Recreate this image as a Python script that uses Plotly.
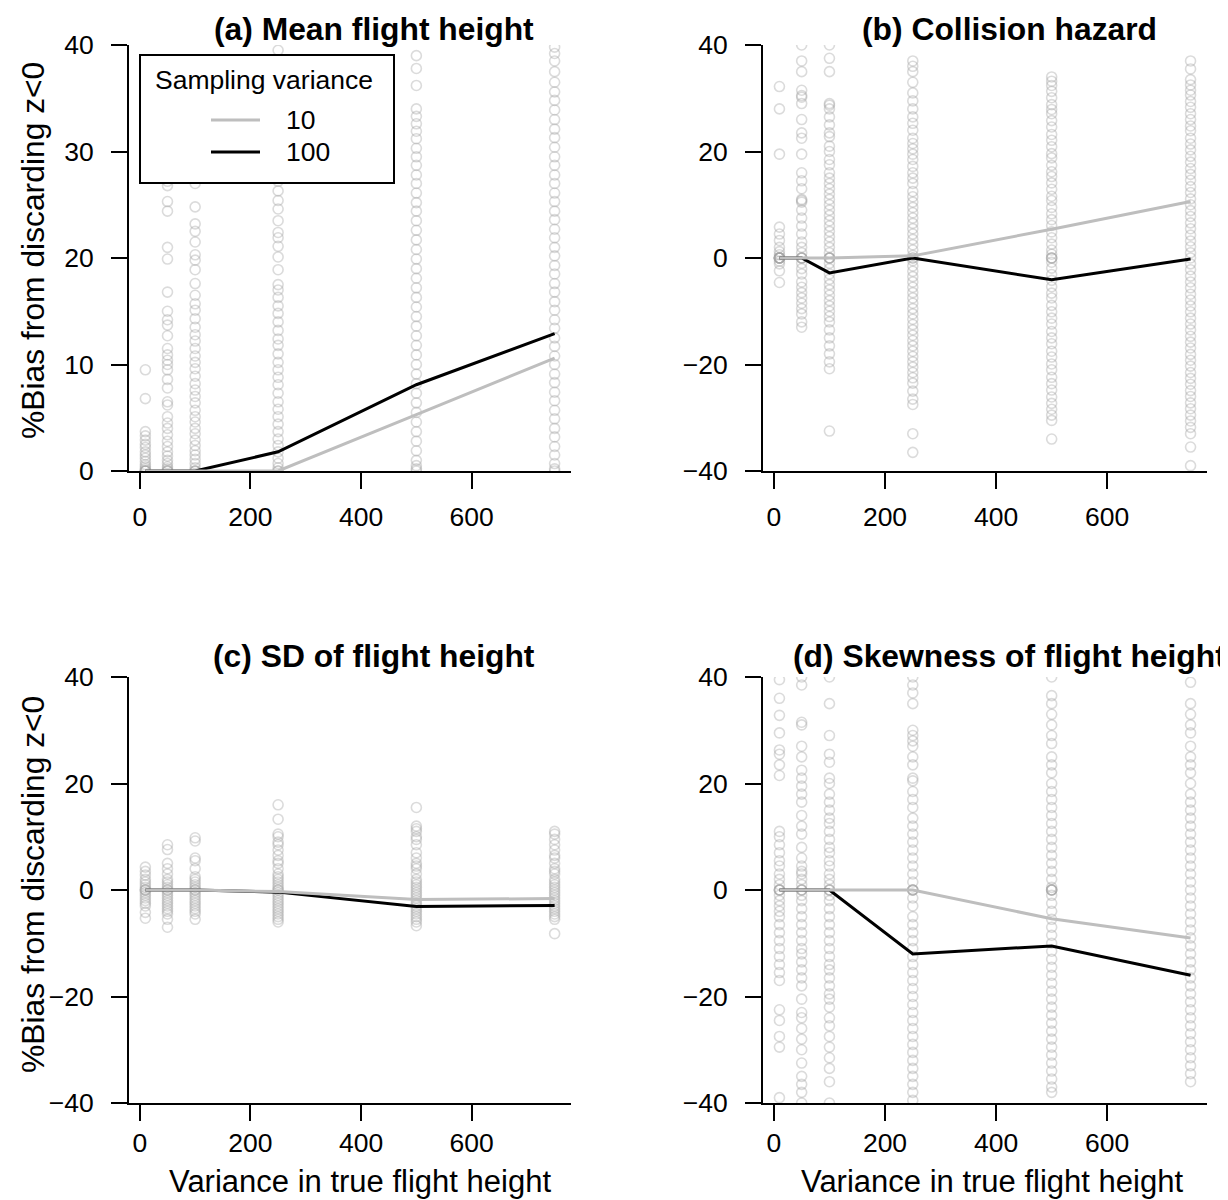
import plotly.graph_objects as go

# ---------------- data ----------------
VAR_TRUE = [10, 50, 100, 250, 500, 750]
X_TICKS = [0, 200, 400, 600]

# mean bias lines (sampling variance 10 = grey, 100 = black)
A_LINE_10 = [0, 0, 0, 0, 5.3, 10.6]
A_LINE_100 = [0, 0, 0, 1.8, 8.1, 12.9]
B_LINE_10 = [0, 0, 0, 0.4, 5.4, 10.6]
B_LINE_100 = [0, 0, -2.8, 0, -4.1, -0.2]
C_LINE_10 = [0, 0, 0, -0.3, -1.8, -1.6]
C_LINE_100 = [0, 0, 0, -0.4, -3.1, -2.9]
D_LINE_10 = [0, 0, 0, 0, -5.4, -9.0]
D_LINE_100 = [0, 0, 0, -12.0, -10.5, -16.0]

# individual simulation results (panel a)
A_10 = [9.5, 6.8, 3.7, 3.3, 2.9, 2.5, 2.2, 1.8, 1.5, 1.2, 0.9, 0.6, 0.4, 0.2, 0, 0, 0, 0]
A_50 = [33, 29, 27.2, 26.8, 25.3, 24.4, 21.0, 19.9, 16.8, 15.0, 14.2, 13.7, 12.7, 11.5, 10.9, 10.4,
        10.0, 9.5, 8.6, 7.8, 6.5, 6.2, 5.1, 4.5, 4.0, 3.4, 2.8, 2.3, 1.8, 1.4, 1.0, 0.7, 0.4, 0.2, 0, 0, 0]
A_100 = [34, 30, 27, 24.8, 23.2, 22.5, 21.5, 20.3, 19.8, 18.9, 17.6, 16.5, 15.7, 15.1, 14.3, 13.5, 12.8,
         12.2, 11.5, 10.8, 10.2, 9.6, 8.9, 8.2, 7.6, 7.0, 6.4, 5.7, 5.1, 4.6, 4.0, 3.5, 2.9, 2.4, 1.9,
         1.5, 1.1, 0.7, 0.3, 0, 0, 0]
A_250 = [39.5, 36, 33, 30.5, 28.6, 27.2, 26.3, 25.4, 24.6, 23.5, 22.4, 21.9, 21.1, 20.1, 18.9, 17.5,
         17.0, 16.3, 15.5, 14.8, 14.0, 13.2, 12.4, 11.8, 11.0, 10.2, 9.5, 8.8, 8.1, 7.3, 6.5, 5.8, 5.1,
         4.4, 3.7, 3.0, 2.4, 1.8, 1.2, 0.7, 0.3, 0, 0]
A_500 = [39.0, 37.8, 36.2, 34.0, 33.3, 32.6, 31.9, 31.2, 30.3, 29.5, 28.7, 27.8, 27.0, 26.1, 25.2, 24.4,
         23.5, 22.6, 21.7, 20.8, 19.9, 19.0, 18.1, 17.2, 16.3, 15.4, 14.5, 13.6, 12.7, 11.8, 10.9, 10.0,
         9.1, 8.2, 7.3, 6.4, 5.5, 4.6, 3.7, 2.8, 1.9, 1.0, 0.5, 0.2, 0]
A_750 = [39.8, 39.2, 38.5, 37.5, 36.5, 35.6, 34.8, 33.9, 33.0, 32.1, 31.3, 30.4, 29.5, 28.7, 27.8, 27.0,
         26.1, 25.3, 24.4, 23.6, 22.7, 21.9, 21.0, 20.2, 19.3, 18.5, 17.6, 16.8, 15.9, 15.1, 14.2, 13.4,
         12.5, 11.7, 10.8, 10.0, 9.1, 8.3, 7.4, 6.6, 5.7, 4.9, 4.0, 3.2, 2.3, 1.5, 0.7, 0.2, 0]

# panel b
B_10 = [32.2, 28, 19.5, 5.8, 4.5, 3.3, 2.0, 1.2, 0.6, 0, 0, 0, 0, 0, 0, 0, 0, -0.6, -1.1, -2.4, -4.6]
B_50 = [40, 37, 35, 31.5, 30.5, 30.2, 29, 26, 23.5, 22.5, 19.5, 16, 14.5, 13, 11, 10.8, 10.5, 9, 7.5, 6,
        4.5, 3, 2, 1, 0, 0, 0, 0, -1, -2, -3, -4.5, -5.5, -6.5, -7.5, -8.5, -9.5, -10.5, -12, -13]
B_100 = [40, 37.5, 35, 29, 28.7, 28, 26.5, 25, 23.5, 22.8, 21, 20, 18.5, 17.5, 16, 15, 14, 13, 12, 11, 10,
         9, 8, 7, 6, 5, 4, 3, 2, 1, 0, 0, 0, 0, -1, -2, -3, -4, -5, -6, -7, -8, -9, -10, -11, -12,
         -13.5, -15, -16.5, -18, -19.5, -20.8, -32.5]
B_250 = [37, 36, 35, 33, 31, 29.5, 28, 26.5, 25.3, 24, 22.5, 21.5, 20.5, 19.5, 18.5, 17.2, 16, 15, 14,
         12.5, 11.5, 10.5, 9.5, 8.5, 7.5, 6.5, 5.5, 4.5, 3.5, 2.5, 1.5, 0.5, 0, 0, -0.5, -1.5, -2.5,
         -3.5, -4.5, -5.5, -6.5, -7.5, -8.5, -9.5, -10.5, -11.5, -12.5, -13.5, -14.5, -15.5, -16.5,
         -17.5, -18.5, -19.5, -20.5, -21.5, -22.5, -23.5, -25, -26.5, -27.5, -33, -36.5]
B_500 = [34, 33.2, 32.4, 31.3, 30.1, 28.8, 27.9, 27.1, 25.8, 24.6, 23.2, 22.1, 20.9, 19.6, 18.8, 17.4,
         16.2, 15.3, 14.1, 12.9, 11.6, 10.8, 9.5, 8.3, 7.2, 6.1, 4.9, 3.8, 2.6, 1.5, 0.7, 0, 0, 0, -0.8,
         -1.9, -3.1, -4.2, -5.4, -6.6, -7.5, -8.9, -10.1, -11.3, -12.4, -13.8, -15.0, -16.1, -17.5,
         -18.6, -19.9, -21.0, -22.4, -23.6, -24.8, -26.1, -27.3, -28.4, -29.5, -30.5, -34]
B_750 = [37, 35.5, 33.5, 32.5, 31.5, 30.6, 29.4, 28.3, 27.1, 26.0, 24.8, 23.9, 22.5, 21.4, 20.3, 19.1,
         18.0, 16.8, 15.7, 14.6, 13.4, 12.3, 11.1, 10.0, 8.9, 7.8, 6.6, 5.5, 4.3, 3.2, 2.1, 1.0, 0,
         -1.1, -2.2, -3.4, -4.5, -5.6, -6.8, -7.9, -9.0, -10.1, -11.3, -12.4, -13.5, -14.7, -15.8,
         -16.9, -18.1, -19.2, -20.3, -21.5, -22.6, -23.7, -24.9, -26.0, -27.2, -28.3, -29.5, -30.6,
         -31.8, -33, -35.5, -39]

# panel c
C_10 = [4.3, 3.5, 2.8, 2.0, 1.5, 1.0, 0.5, 0, 0, 0, -0.5, -1.0, -1.5, -2.0, -2.5, -3.0, -4.2, -5.3]
C_50 = [8.5, 7.6, 5.0, 4.0, 3.0, 2.0, 1.5, 1.0, 0.5, 0, 0, -0.5, -1.0, -1.5, -2.0, -2.5, -3.0, -3.5,
        -4.0, -4.5, -5.5, -7.0]
C_100 = [9.8, 9.2, 6.0, 5.5, 4.0, 2.5, 2.0, 1.5, 1.0, 0.5, 0, 0, -0.5, -1.0, -1.5, -2.0, -2.5, -3.0,
         -3.5, -4.0, -4.5, -5.5]
C_250 = [16.0, 13.3, 10.5, 10.0, 9.0, 8.5, 7.5, 6.5, 5.5, 5.0, 4.0, 3.0, 2.5, 2.0, 1.5, 1.0, 0.5, 0, 0,
         -0.5, -1.0, -1.5, -2.0, -2.5, -3.0, -3.5, -4.0, -4.5, -5.0, -5.5, -6.0]
C_500 = [15.5, 12.0, 11.5, 11.0, 10.0, 9.5, 8.5, 7.0, 6.0, 5.0, 4.5, 4.0, 3.0, 2.0, 1.5, 1.0, 0.5, 0,
         -0.5, -1.0, -1.5, -2.0, -2.5, -3.0, -3.5, -4.0, -4.5, -5.0, -5.5, -6.0, -6.7]
C_750 = [11.0, 10.5, 9.5, 8.5, 7.5, 6.5, 6.0, 5.0, 4.0, 3.5, 3.0, 2.0, 1.5, 1.0, 0.5, 0, -0.5, -1.0,
         -1.5, -2.0, -2.5, -3.0, -3.5, -4.0, -4.5, -5.0, -5.5, -8.2]

# panel d
D_10 = [39.5, 36, 32.8, 29.5, 26.3, 25.5, 23.5, 21.5, 11, 10, 8.5, 7, 5.5, 4.5, 3, 2, 1, 0, 0, 0, 0,
        -1, -2, -3, -4, -5, -6.5, -8, -9.5, -11, -12.5, -14, -15.5, -17, -22.5, -24.5, -27.5, -29.5, -39]
D_50 = [40, 38.5, 31.5, 31, 27, 25, 22.5, 21, 19.5, 18, 16.5, 14, 12, 10.5, 8, 6, 4.5, 3.5, 3, 2, 1, 0,
        0, 0, -1, -2, -3.5, -5, -6.5, -8, -9.5, -11, -12, -13.5, -15, -16.5, -18, -20.5, -23, -24, -26,
        -28, -30, -32.5, -35, -36.5, -38, -40]
D_100 = [40, 35, 29, 25.5, 24, 21, 20, 18, 16.5, 15, 13.5, 12.5, 11, 9.5, 8, 7, 5.5, 4.5, 3, 2, 1, 0, 0,
         0, -1, -2, -3.5, -5, -6.5, -8, -9.5, -11, -12.5, -14, -15, -16.5, -18, -19.5, -20.5, -22, -24,
         -25.5, -27.5, -29.5, -31.5, -33.5, -36, -40]
D_250 = [40, 38.5, 37, 35, 30, 29, 28, 27, 25, 23.5, 21, 20.5, 18.5, 17, 15.5, 13.5, 12, 10.5, 9, 7.5,
         6, 4.5, 3, 1.5, 0, 0, 0, 0, -1.5, -3, -5, -6.5, -8, -9.5, -11, -12.5, -14, -15.5, -17, -18.5,
         -20, -21.5, -23, -24.5, -26, -27.5, -29, -30.5, -32, -33.5, -35, -36.5, -38, -39.5]
D_500 = [40, 36.5, 35, 33, 31, 29, 27.5, 25, 23.5, 22, 20, 18.5, 17, 15.5, 14, 12.5, 11, 9.5, 8, 6.5, 5,
         3.5, 2, 0.5, 0, 0, 0, 0, -1, -2.5, -4, -5.5, -7, -8.5, -10, -11.5, -13, -14.5, -16, -17.5, -19,
         -20.5, -22, -23.5, -25, -26.5, -28, -29.5, -31, -32.5, -34, -35.5, -37, -38]
D_750 = [39, 35, 33, 31, 29.5, 27, 25, 23.5, 22, 20, 18, 16.5, 15, 13.5, 12, 10.5, 9, 7.5, 6, 4.5, 3,
         1.5, 0, -1.5, -3, -4.5, -6, -7.5, -9, -10.5, -12, -13.5, -15, -16.5, -18, -19.5, -21, -22.5,
         -24, -25.5, -27, -28.5, -30, -31.5, -33, -34.5, -36]

TITLES = ["(a) Mean flight height", "(b) Collision hazard",
          "(c) SD of flight height", "(d) Skewness of flight height"]
Y_TITLE = "%Bias from discarding z<0"
X_TITLE = "Variance in true flight height"
LEGEND_TITLE = "Sampling variance"
SERIES_NAMES = ["10", "100"]

# ---------------- figure ----------------
PAGE_OFFSET = 8          # default body margin of the html page
W, H = 1228 - PAGE_OFFSET, 1200 - PAGE_OFFSET
FONT = "Liberation Sans, Arial, sans-serif"
GREY_LINE = "rgb(190,190,190)"
PT_COLOR = "rgba(165,165,165,0.4)"


def fx(p):
    return (p - PAGE_OFFSET) / W


def fy(p):
    return 1 - (p - PAGE_OFFSET) / H


panels = [
    dict(cols=[A_10, A_50, A_100, A_250, A_500, A_750], l10=A_LINE_10, l100=A_LINE_100,
         xd=(129, 571), yd=(45, 471), yr=[0, 40], yt=[0, 10, 20, 30, 40], xstand=5),
    dict(cols=[B_10, B_50, B_100, B_250, B_500, B_750], l10=B_LINE_10, l100=B_LINE_100,
         xd=(763, 1207), yd=(45, 471), yr=[-40, 40], yt=[-40, -20, 0, 20, 40], xstand=5),
    dict(cols=[C_10, C_50, C_100, C_250, C_500, C_750], l10=C_LINE_10, l100=C_LINE_100,
         xd=(129, 571), yd=(677, 1103), yr=[-40, 40], yt=[-40, -20, 0, 20, 40], xstand=-1),
    dict(cols=[D_10, D_50, D_100, D_250, D_500, D_750], l10=D_LINE_10, l100=D_LINE_100,
         xd=(763, 1207), yd=(677, 1103), yr=[-40, 40], yt=[-40, -20, 0, 20, 40], xstand=-1),
]

fig = go.Figure()
layout = dict()
for i, p in enumerate(panels):
    n = "" if i == 0 else str(i + 1)
    xs, ys = [], []
    for xv, col in zip(VAR_TRUE, p["cols"]):
        xs += [xv] * len(col)
        ys += col
    fig.add_trace(go.Scatter(
        x=xs, y=ys, mode="markers", xaxis="x" + n, yaxis="y" + n, showlegend=False,
        marker=dict(symbol="circle-open", size=10, color=PT_COLOR, line=dict(width=1.6, color=PT_COLOR)),
        hoverinfo="skip"))
    fig.add_trace(go.Scatter(
        x=VAR_TRUE, y=p["l100"], mode="lines", xaxis="x" + n, yaxis="y" + n,
        line=dict(color="black", width=3), name=SERIES_NAMES[1], showlegend=False))
    fig.add_trace(go.Scatter(
        x=VAR_TRUE, y=p["l10"], mode="lines", xaxis="x" + n, yaxis="y" + n,
        line=dict(color=GREY_LINE, width=3), name=SERIES_NAMES[0], showlegend=False))
    axis_common = dict(showgrid=False, zeroline=False, showline=True, linecolor="black", linewidth=2,
                       ticks="outside", tickwidth=2, tickcolor="black", ticklen=16, automargin=False,
                       tickfont=dict(family=FONT, size=26.5, color="black"))
    layout["xaxis" + n] = dict(domain=[fx(p["xd"][0]), fx(p["xd"][1])], range=[-19.6, 779.6],
                               tickvals=X_TICKS, anchor="y" + n, ticklabelstandoff=p["xstand"],
                               **axis_common)
    layout["yaxis" + n] = dict(domain=[fy(p["yd"][1]), fy(p["yd"][0])], range=p["yr"],
                               tickvals=p["yt"], anchor="x" + n, ticklabelstandoff=12, **axis_common)

annotations = []
title_pos = [(374, 29), (1009, 29), (374, 656), (1009, 656)]
for t, (px, py) in zip(TITLES, title_pos):
    annotations.append(dict(text="<b>" + t + "</b>", x=fx(px), y=fy(py), xref="paper", yref="paper",
                            xanchor="center", yanchor="middle", showarrow=False,
                            font=dict(family=FONT, size=31.8, color="black")))
for py in (251, 885):
    annotations.append(dict(text=Y_TITLE, x=fx(33), y=fy(py), xref="paper", yref="paper",
                            xanchor="center", yanchor="middle", textangle=-90, showarrow=False,
                            font=dict(family=FONT, size=31.8, color="black")))
for px in (360, 992):
    annotations.append(dict(text=X_TITLE, x=fx(px), y=fy(1181), xref="paper", yref="paper",
                            xanchor="center", yanchor="middle", showarrow=False,
                            font=dict(family=FONT, size=31, color="black")))

# legend box (panel a, top-left), drawn above the simulation points
shapes = [dict(type="rect", xref="paper", yref="paper", x0=fx(140), x1=fx(394), y0=fy(183), y1=fy(55),
               fillcolor="white", line=dict(color="black", width=2), layer="above")]
legend_rows = [(SERIES_NAMES[0], GREY_LINE, 120), (SERIES_NAMES[1], "black", 152)]
for name, colr, py in legend_rows:
    shapes.append(dict(type="line", xref="paper", yref="paper", x0=fx(211), x1=fx(260), y0=fy(py), y1=fy(py),
                       line=dict(color=colr, width=3), layer="above"))
    annotations.append(dict(text=name, x=fx(284), y=fy(py), xref="paper", yref="paper",
                            xanchor="left", yanchor="middle", showarrow=False,
                            font=dict(family=FONT, size=26.5, color="black")))
annotations.append(dict(text=LEGEND_TITLE, x=fx(153), y=fy(80), xref="paper", yref="paper",
                        xanchor="left", yanchor="middle", showarrow=False,
                        font=dict(family=FONT, size=26.5, color="black")))

fig.update_layout(
    width=W, height=H, margin=dict(l=0, r=0, t=0, b=0, autoexpand=False),
    paper_bgcolor="white", plot_bgcolor="white",
    annotations=annotations, shapes=shapes, showlegend=False,
    **layout)

fig.write_html("out.html")
